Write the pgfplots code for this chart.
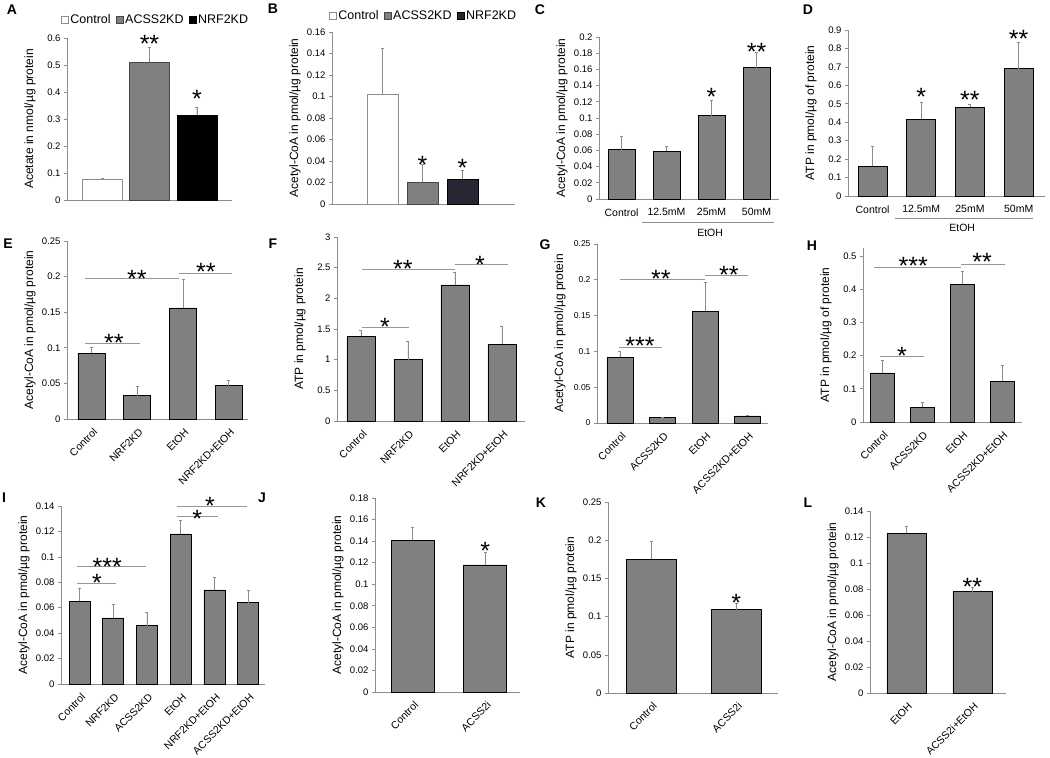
\documentclass[border=0pt]{standalone}
\usepackage{pgfplots}
\pgfplotsset{compat=1.18}
\usepackage{fontspec}
\setmainfont{Liberation Sans}
\definecolor{barfill}{RGB}{128,128,128}
\definecolor{bardraw}{RGB}{70,70,70}
\definecolor{axgray}{RGB}{140,140,140}
\definecolor{siggray}{RGB}{150,150,150}
\definecolor{navy}{RGB}{38,38,52}
\tikzset{
  star/.style={anchor=base, font=\fontsize{25}{25}\selectfont, yshift=-14.5pt, inner sep=0pt},
  sig/.style={draw=siggray, line width=0.8pt},
  plet/.style={font=\bfseries\fontsize{14}{14}\selectfont, inner sep=0pt},
}
\pgfplotsset{
  panel/.style={
    scale only axis, ybar, bar shift=0pt, ymin=0, clip=false,
    anchor=south west,
    cycle list={{fill=barfill, draw=bardraw, line width=0.6pt}},
    axis x line*=bottom, axis y line*=left,
    axis line style={-, draw=axgray, line width=0.7pt},
    tick align=outside, major tick length=3pt,
    ytick style={draw=axgray, line width=0.6pt},
    xtick style={draw=none},
    scaled y ticks=false,
    yticklabel style={font=\fontsize{9.5}{10}\selectfont, /pgf/number format/fixed, /pgf/number format/precision=2, /pgf/number format/assume math mode=true},
    xticklabel style={font=\fontsize{10.5}{11}\selectfont, yshift=-3pt},
    ylabel style={font=\fontsize{12}{13}\selectfont, at={([xshift=-37pt]axis description cs:0,0.5)}, anchor=center},
    every axis plot/.append style={line width=0.6pt,
      error bars/y dir=plus, error bars/y explicit,
      error bars/error bar style={draw=axgray, line width=0.6pt},
      error bars/error mark options={rotate=90, draw=axgray, mark size=1.5pt, line width=0.6pt}},
  },
  rot/.style={xticklabel style={rotate=45, anchor=north east, font=\fontsize{10.5}{11}\selectfont, inner sep=1pt, yshift=-1.5pt}},
  leg/.style={legend style={at={([xshift=#1]axis description cs:0.5,1)}, anchor=center, draw=none, fill=none,
      legend columns=3, font=\fontsize{12.5}{13}\selectfont,
      /tikz/every even column/.append style={column sep=3pt}},
    legend image code/.code={\draw[##1, line width=0.5pt] (0pt,-3.5pt) rectangle (7pt,3.5pt);}},
}
\begin{document}
\begin{tikzpicture}
\path[use as bounding box] (0pt,0pt) rectangle (1050pt,758pt);
% panel letters
\node[plet] at (12pt,748pt) {A};
\node[plet] at (273pt,749pt) {B};
\node[plet] at (540pt,748pt) {C};
\node[plet] at (808pt,748pt) {D};
\node[plet] at (8pt,514pt) {E};
\node[plet] at (273pt,514pt) {F};
\node[plet] at (545pt,513pt) {G};
\node[plet] at (812pt,512pt) {H};
\node[plet] at (4pt,260pt) {I};
\node[plet] at (262pt,260pt) {J};
\node[plet] at (541pt,255pt) {K};
\node[plet] at (808pt,255pt) {L};

% ---------------- A
\begin{axis}[panel, leg=6pt, legend style={yshift=18pt}, at={(67pt,558pt)}, width=165pt, height=162pt,
  xmin=-0.737, xmax=2.737, ymax=0.6, ytick={0,0.1,0.2,0.3,0.4,0.5,0.6}, xtick=\empty, bar width=40pt,
  ylabel={Acetate in nmol/µg protein}]
\addplot[fill=white, draw=axgray] coordinates {(0,0.075) +- (0,0.005)};
\addplot[fill=barfill, draw=bardraw] coordinates {(1,0.51) +- (0,0.055)};
\addplot[fill=black, draw=black] coordinates {(2,0.315) +- (0,0.028)};
\legend{Control, ACSS2KD, NRF2KD}
\node[star] at (axis cs:1,0.6) {**};
\node[star] at (axis cs:2,0.396) {*};
\end{axis}

% ---------------- B
\begin{axis}[panel, leg=0pt, legend style={yshift=16pt}, at={(332pt,554pt)}, width=183pt, height=172pt,
  xmin=-1.26, xmax=3.31, ymax=0.16, ytick={0,0.02,0.04,0.06,0.08,0.1,0.12,0.14,0.16}, xtick=\empty, bar width=31pt,
  ylabel={Acetyl-CoA in pmol/µg protein}]
\addplot[fill=white, draw=axgray] coordinates {(0,0.102) +- (0,0.043)};
\addplot[fill=barfill, draw=bardraw] coordinates {(1,0.020) +- (0,0.017)};
\addplot[fill=navy, draw=black] coordinates {(2,0.023) +- (0,0.008)};
\legend{Control, ACSS2KD, NRF2KD}
\node[star] at (axis cs:1,0.0419) {*};
\node[star] at (axis cs:2,0.039) {*};
\end{axis}

% ---------------- C
\begin{axis}[panel, at={(599pt,559pt)}, width=180pt, height=162pt,
  xmin=-0.5, xmax=3.5, ymax=0.2, ytick={0,0.02,0.04,0.06,0.08,0.1,0.12,0.14,0.16,0.18,0.2},
  xtick={0,1,2,3}, xticklabels={Control,12.5mM,25mM,50mM}, bar width=27pt,
  ylabel={Acetyl-CoA in pmol/µg protein}]
\addplot coordinates {(0,0.061) +- (0,0.017) (1,0.059) +- (0,0.006) (2,0.103) +- (0,0.019) (3,0.162) +- (0,0.019)};
\node[star] at (axis cs:2,0.1333) {*};
\node[star] at (axis cs:3,0.189) {**};
\draw[axgray, line width=0.7pt] ([yshift=-23pt]axis cs:0.46,0) -- ([yshift=-23pt]axis cs:3.39,0);
\node[font=\fontsize{10.5}{11}\selectfont] at ([yshift=-34pt]axis cs:1.97,0) {EtOH};
\end{axis}

% ---------------- D
\begin{axis}[panel, at={(848pt,562pt)}, width=197pt, height=166pt,
  xmin=-0.503, xmax=3.54, ymax=0.9, ytick={0,0.1,0.2,0.3,0.4,0.5,0.6,0.7,0.8,0.9},
  xtick={0,1,2,3}, xticklabels={Control,12.5mM,25mM,50mM}, bar width=29pt,
  ylabel={ATP in pmol/µg of protein}]
\addplot coordinates {(0,0.16) +- (0,0.11) (1,0.415) +- (0,0.095) (2,0.482) +- (0,0.013) (3,0.69) +- (0,0.145)};
\node[star] at (axis cs:1,0.569) {*};
\node[star] at (axis cs:2,0.553) {**};
\node[star] at (axis cs:3,0.884) {**};
\draw[axgray, line width=0.7pt] ([yshift=-22pt]axis cs:0.46,0) -- ([yshift=-22pt]axis cs:3.3,0);
\node[font=\fontsize{10.5}{11}\selectfont] at ([yshift=-32pt]axis cs:1.84,0) {EtOH};
\end{axis}

% ---------------- E
\begin{axis}[panel, rot, at={(67pt,339pt)}, width=181pt, height=178pt,
  xmin=-0.535, xmax=3.42, ymax=0.25, ytick={0,0.05,0.1,0.15,0.2,0.25},
  xtick={0,1,2,3}, xticklabels={Control,NRF2KD,EtOH,NRF2KD+EtOH}, bar width=27pt,
  ylabel={Acetyl-CoA in pmol/µg protein}]
\addplot coordinates {(0,0.092) +- (0,0.008) (1,0.033) +- (0,0.013) (2,0.156) +- (0,0.040) (3,0.047) +- (0,0.007)};
\draw[sig] (axis cs:-0.14,0.1067) -- (axis cs:1.06,0.1067);
\node[star] at (axis cs:0.49,0.115) {**};
\draw[sig] (axis cs:-0.14,0.198) -- (axis cs:1.91,0.198);
\node[star] at (axis cs:0.99,0.205) {**};
\draw[sig] (axis cs:1.91,0.205) -- (axis cs:3.07,0.205);
\node[star] at (axis cs:2.5,0.215) {**};
\end{axis}

% ---------------- F
\begin{axis}[panel, rot, at={(337pt,337pt)}, width=188pt, height=184pt,
  xmin=-0.51, xmax=3.49, ymax=3, ytick={0,0.5,1,1.5,2,2.5,3},
  xtick={0,1,2,3}, xticklabels={Control,NRF2KD,EtOH,NRF2KD+EtOH}, bar width=28pt,
  ylabel={ATP in pmol/µg protein}]
\addplot coordinates {(0,1.38) +- (0,0.10) (1,1.0) +- (0,0.30) (2,2.22) +- (0,0.20) (3,1.25) +- (0,0.30)};
\draw[sig] (axis cs:0.02,1.533) -- (axis cs:1.02,1.533);
\node[star] at (axis cs:0.51,1.63) {*};
\draw[sig] (axis cs:0.02,2.478) -- (axis cs:2.0,2.478);
\node[star] at (axis cs:0.89,2.575) {**};
\draw[sig] (axis cs:2.0,2.56) -- (axis cs:3.13,2.56);
\node[star] at (axis cs:2.53,2.64) {*};
\end{axis}

% ---------------- G
\begin{axis}[panel, rot, at={(597pt,335pt)}, width=171pt, height=179pt,
  xmin=-0.54, xmax=3.48, ymax=0.25, ytick={0,0.05,0.1,0.15,0.2,0.25},
  yticklabel style={font=\fontsize{8.5}{9}\selectfont},
  xtick={0,1,2,3}, xticklabels={Control,ACSS2KD,EtOH,ACSS2KD+EtOH}, bar width=26pt,
  ylabel={Acetyl-CoA in pmol/µg protein}]
\addplot coordinates {(0,0.092) +- (0,0.008) (1,0.008) +- (0,0.0005) (2,0.156) +- (0,0.040) (3,0.010) +- (0,0.001)};
\draw[sig] (axis cs:-0.02,0.106) -- (axis cs:0.99,0.106);
\node[star] at (axis cs:0.47,0.116) {***};
\draw[sig] (axis cs:0.0,0.201) -- (axis cs:2.0,0.201);
\node[star] at (axis cs:0.96,0.2095) {**};
\draw[sig] (axis cs:2.0,0.2067) -- (axis cs:3.01,0.2067);
\node[star] at (axis cs:2.56,0.215) {**};
\end{axis}

% ---------------- H
\begin{axis}[panel, rot, at={(863pt,336pt)}, width=159pt, height=174pt,
  xmin=-0.475, xmax=3.5, ymax=0.524, ytick={0,0.1,0.2,0.3,0.4,0.5},
  xtick={0,1,2,3}, xticklabels={Control,ACSS2KD,EtOH,ACSS2KD+EtOH}, bar width=24pt,
  ylabel={ATP in pmol/µg of protein}]
\addplot coordinates {(0,0.148) +- (0,0.037) (1,0.045) +- (0,0.015) (2,0.415) +- (0,0.040) (3,0.123) +- (0,0.047)};
\draw[sig] (axis cs:-0.05,0.199) -- (axis cs:1.05,0.199);
\node[star] at (axis cs:0.5,0.217) {*};
\draw[sig] (axis cs:-0.2,0.467) -- (axis cs:1.98,0.467);
\node[star] at (axis cs:0.78,0.488) {***};
\draw[sig] (axis cs:1.98,0.476) -- (axis cs:3.08,0.476);
\node[star] at (axis cs:2.5,0.5) {**};
\end{axis}

% ---------------- I
\begin{axis}[panel, rot, at={(61pt,74pt)}, width=204pt, height=178pt,
  xmin=-0.55, xmax=5.5, ymax=0.14, ytick={0,0.02,0.04,0.06,0.08,0.1,0.12,0.14},
  xtick={0,1,2,3,4,5}, xticklabels={Control,NRF2KD,ACSS2KD,EtOH,NRF2KD+EtOH,ACSS2KD+EtOH}, bar width=21pt,
  ylabel={Acetyl-CoA in pmol/µg protein}]
\addplot coordinates {(0,0.065) +- (0,0.010) (1,0.052) +- (0,0.011) (2,0.046) +- (0,0.010) (3,0.118) +- (0,0.011) (4,0.074) +- (0,0.010) (5,0.064) +- (0,0.010)};
\draw[sig] (axis cs:-0.07,0.0794) -- (axis cs:1.08,0.0794);
\node[star] at (axis cs:0.52,0.0842) {*};
\draw[sig] (axis cs:-0.07,0.0928) -- (axis cs:1.97,0.0928);
\node[star] at (axis cs:0.82,0.0967) {***};
\draw[sig] (axis cs:2.89,0.132) -- (axis cs:4.11,0.132);
\node[star] at (axis cs:3.49,0.1345) {*};
\draw[sig] (axis cs:2.89,0.1395) -- (axis cs:4.97,0.1395);
\node[star] at (axis cs:3.87,0.1447) {*};
\end{axis}

% ---------------- J
\begin{axis}[panel, rot, at={(375pt,66pt)}, width=145pt, height=194pt,
  xmin=-0.517, xmax=1.48, ymax=0.18, ytick={0,0.02,0.04,0.06,0.08,0.1,0.12,0.14,0.16,0.18},
  xtick={0,1}, xticklabels={Control,ACSS2i}, bar width=43pt,
  ylabel={Acetyl-CoA in pmol/µg protein}]
\addplot coordinates {(0,0.141) +- (0,0.012) (1,0.118) +- (0,0.012)};
\node[star] at (axis cs:1,0.136) {*};
\end{axis}

% ---------------- K
\begin{axis}[panel, rot, at={(608pt,65pt)}, width=170pt, height=191pt,
  xmin=-0.506, xmax=1.49, ymax=0.25, ytick={0,0.05,0.1,0.15,0.2,0.25},
  xtick={0,1}, xticklabels={Control,ACSS2i}, bar width=50pt,
  ylabel={ATP in pmol/µg protein}]
\addplot coordinates {(0,0.175) +- (0,0.024) (1,0.109) +- (0,0.009)};
\node[star] at (axis cs:1,0.1257) {*};
\end{axis}

% ---------------- L
\begin{axis}[panel, rot, at={(870pt,65pt)}, width=136pt, height=182pt,
  xmin=-0.553, xmax=1.51, ymax=0.14, ytick={0,0.02,0.04,0.06,0.08,0.1,0.12,0.14},
  xtick={0,1}, xticklabels={EtOH,ACSS2i+EtOH}, bar width=39pt,
  ylabel={Acetyl-CoA in pmol/µg protein}]
\addplot coordinates {(0,0.123) +- (0,0.005) (1,0.078) +- (0,0.003)};
\node[star] at (axis cs:1,0.0861) {**};
\end{axis}
\end{tikzpicture}
\end{document}
